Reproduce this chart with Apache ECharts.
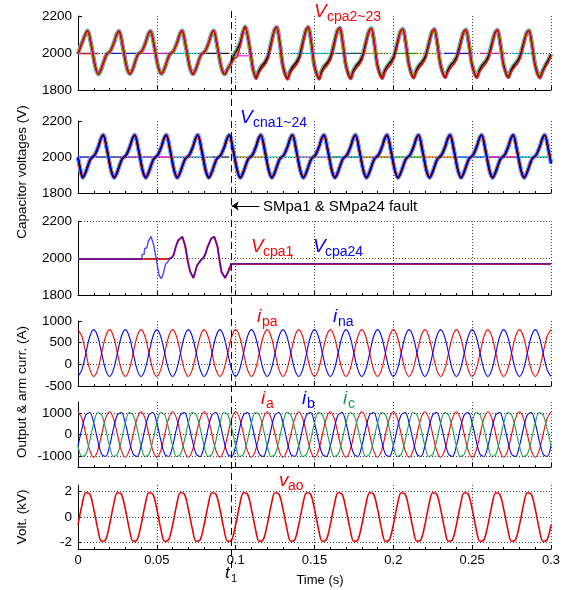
<!DOCTYPE html>
<html><head><meta charset="utf-8">
<script src="https://cdn.jsdelivr.net/npm/echarts@6/dist/echarts.min.js"></script>
<style>html,body{margin:0;padding:0;background:#fff}#c{width:568px;height:590px}</style>
</head><body><div id="c"></div>
<script>
// ---------------- DATA ----------------
const xTicks = [0, 0.05, 0.1, 0.15, 0.2, 0.25, 0.3];
const faultTime = 0.097;

// common sampling grid (s) for the sinusoidal traces
const tGrid = [
0,0.0025,0.005,0.0075,0.01,0.0125,0.015,0.0175,
0.02,0.0225,0.025,0.0275,0.03,0.0325,0.035,0.0375,
0.04,0.0425,0.045,0.0475,0.05,0.0525,0.055,0.0575,
0.06,0.0625,0.065,0.0675,0.07,0.0725,0.075,0.0775,
0.08,0.0825,0.085,0.0875,0.09,0.0925,0.095,0.0975,
0.1,0.1025,0.105,0.1075,0.11,0.1125,0.115,0.1175,
0.12,0.1225,0.125,0.1275,0.13,0.1325,0.135,0.1375,
0.14,0.1425,0.145,0.1475,0.15,0.1525,0.155,0.1575,
0.16,0.1625,0.165,0.1675,0.17,0.1725,0.175,0.1775,
0.18,0.1825,0.185,0.1875,0.19,0.1925,0.195,0.1975,
0.2,0.2025,0.205,0.2075,0.21,0.2125,0.215,0.2175,
0.22,0.2225,0.225,0.2275,0.23,0.2325,0.235,0.2375,
0.24,0.2425,0.245,0.2475,0.25,0.2525,0.255,0.2575,
0.26,0.2625,0.265,0.2675,0.27,0.2725,0.275,0.2775,
0.28,0.2825,0.285,0.2875,0.29,0.2925,0.295,0.2975,
0.3];

// Panel 1: upper-arm capacitor voltages V_cpa2~23 (V)
const p1Time = [
0,0.003,0.006,0.0085,0.011,0.013,
0.0147,0.018,0.0205,0.023,0.0245,0.026,0.0285,0.031,0.033,
0.0347,0.038,0.0405,0.043,0.0445,0.046,0.0485,0.051,0.053,
0.0547,0.058,0.0605,0.063,0.0645,0.066,0.0685,0.071,0.073,
0.0747,0.078,0.0805,0.083,0.0845,0.086,0.0885,0.091,0.093,
0.095,0.097,0.099,0.101,0.103,0.1045,0.106,0.1085,0.111,0.113,
0.1145,0.1165,0.1185,0.1205,0.1225,0.1245,0.126,0.128,0.130,0.133,
0.1345,0.1365,0.1385,0.1405,0.1425,0.1445,0.146,0.148,0.150,0.153,
0.1545,0.1565,0.1585,0.1605,0.1625,0.1645,0.166,0.168,0.170,0.173,
0.1745,0.1765,0.1785,0.1805,0.1825,0.1845,0.186,0.188,0.190,0.193,
0.1945,0.1965,0.1985,0.2005,0.2025,0.2045,0.206,0.208,0.210,0.213,
0.2145,0.2165,0.2185,0.2205,0.2225,0.2245,0.226,0.228,0.230,0.233,
0.2345,0.2365,0.2385,0.2405,0.2425,0.2445,0.246,0.248,0.250,0.253,
0.2545,0.2565,0.2585,0.2605,0.2625,0.2645,0.266,0.268,0.270,0.273,
0.2745,0.2765,0.2785,0.2805,0.2825,0.2845,0.286,0.288,0.290,0.293,
0.2945,0.2965,0.2985,0.3];
const p1Wave = [
1995,2065,2120,2040,1925,1885,
1912,1990,2010,2060,2100,2118,2030,1920,1887,
1912,1992,2010,2060,2100,2118,2030,1920,1888,
1912,1990,2010,2060,2100,2120,2030,1920,1886,
1912,1990,2008,2058,2100,2120,2030,1920,1885,
1915,1945,1990,2020,2060,2110,2142,2050,1915,1866,
1900,1930,1950,1985,2055,2122,2140,2055,1930,1862,
1900,1930,1950,1985,2055,2122,2140,2055,1930,1862,
1902,1932,1952,1987,2055,2120,2136,2052,1932,1864,
1902,1932,1952,1987,2055,2118,2134,2050,1932,1866,
1904,1934,1954,1988,2054,2116,2130,2048,1934,1868,
1905,1935,1955,1988,2052,2114,2128,2046,1935,1870,
1905,1935,1955,1988,2052,2112,2126,2046,1935,1870,
1905,1935,1955,1988,2050,2110,2124,2044,1935,1870,
1904,1934,1954,1988,2050,2108,2122,2044,1934,1868,
1900,1935,1965,1995];
const p1Red = [
1995,2065,2120,2040,1925,1885,
1912,1990,2010,2060,2100,2118,2030,1920,1887,
1912,1992,2010,2060,2100,2118,2030,1920,1888,
1912,1990,2010,2060,2100,2120,2030,1920,1886,
1912,1990,2008,2058,2100,2120,2030,1920,1885,
1915,1942,1968,1980,2040,2105,2142,2052,1910,1858,
1890,1915,1935,1968,2040,2118,2140,2050,1920,1856,
1890,1915,1935,1968,2040,2118,2140,2050,1920,1856,
1892,1917,1937,1970,2040,2116,2136,2048,1922,1858,
1892,1917,1937,1970,2040,2114,2134,2046,1922,1860,
1894,1919,1939,1972,2040,2112,2130,2044,1924,1862,
1895,1920,1940,1972,2038,2110,2128,2042,1925,1864,
1895,1920,1940,1972,2038,2108,2126,2042,1925,1864,
1895,1920,1940,1972,2036,2106,2124,2040,1925,1864,
1894,1919,1939,1972,2036,2104,2122,2040,1924,1862,
1892,1925,1955,1985];
// bypassed (flat) capacitor segments in panel 1
const p1FlatStart = [0,0.017,0.040,0.058,0.077,0.100,0.135,0.163,0.180,0.200,0.215,0.232,0.255,0.275];
const p1FlatEnd   = [0.013,0.040,0.058,0.077,0.096,0.111,0.163,0.180,0.197,0.215,0.230,0.250,0.272,0.292];
const p1FlatLevel = [1997,1998,1998,1998,1998,1985,1998,1998,1998,1998,1998,1998,1998,1998];

// Panel 2: lower-arm capacitor voltages V_cna1~24 (V)
const p2Time = [
0,0.0015,0.003,
0.0047,0.008,0.0105,0.013,0.0145,0.016,0.0185,0.021,0.023,
0.0247,0.028,0.0305,0.033,0.0345,0.036,0.0385,0.041,0.043,
0.0447,0.048,0.0505,0.053,0.0545,0.056,0.0585,0.061,0.063,
0.0647,0.068,0.0705,0.073,0.0745,0.076,0.0785,0.081,0.083,
0.0847,0.088,0.0905,0.093,0.0945,0.096,0.0985,0.101,0.103,
0.1047,0.108,0.1105,0.113,0.1145,0.116,0.1185,0.121,0.123,
0.1247,0.128,0.1305,0.133,0.1345,0.136,0.1385,0.141,0.143,
0.1447,0.148,0.1505,0.153,0.1545,0.156,0.1585,0.161,0.163,
0.1647,0.168,0.1705,0.173,0.1745,0.176,0.1785,0.181,0.183,
0.1847,0.188,0.1905,0.193,0.1945,0.196,0.1985,0.201,0.203,
0.2047,0.208,0.2105,0.213,0.2145,0.216,0.2185,0.221,0.223,
0.2247,0.228,0.2305,0.233,0.2345,0.236,0.2385,0.241,0.243,
0.2447,0.248,0.2505,0.253,0.2545,0.256,0.2585,0.261,0.263,
0.2647,0.268,0.2705,0.273,0.2745,0.276,0.2785,0.281,0.283,
0.2847,0.288,0.2905,0.293,0.2945,0.296,0.2985,0.3];
const p2Wave = [
1998,1930,1885,
1912,1990,2010,2060,2102,2122,2035,1925,1885,
1912,1990,2010,2060,2102,2122,2035,1925,1885,
1912,1990,2010,2060,2102,2122,2035,1925,1885,
1912,1990,2010,2060,2102,2122,2035,1925,1885,
1912,1990,2010,2060,2102,2122,2035,1925,1885,
1912,1990,2010,2060,2102,2122,2035,1925,1885,
1912,1990,2010,2060,2102,2122,2035,1925,1885,
1912,1990,2010,2060,2102,2122,2035,1925,1885,
1912,1990,2010,2060,2102,2122,2035,1925,1885,
1912,1990,2010,2060,2102,2122,2035,1925,1885,
1912,1990,2010,2060,2102,2122,2035,1925,1885,
1912,1990,2010,2060,2102,2122,2035,1925,1885,
1912,1990,2010,2060,2102,2122,2035,1925,1885,
1912,1990,2010,2060,2102,2122,2035,1925,1885,
1912,1990,2010,2060,2102,2122,2035,1965];
const p2FlatStart = [0,0.028,0.050,0.060,0.085,0.100,0.118,0.140,0.160,0.180,0.200,0.220,0.240,0.260,0.280];
const p2FlatEnd   = [0.028,0.048,0.060,0.085,0.096,0.118,0.140,0.158,0.178,0.198,0.218,0.238,0.258,0.278,0.298];
const p2FlatLevel = [2000,2000,2000,2000,2000,2000,2000,2000,2000,2000,2000,2000,2000,2000,2000];

// Panel 3: V_cpa1 (red) and V_cpa24 (blue)
const p3Time = [0,0.0404,0.0406,0.042,0.0422,0.0436,0.0446,0.0463,0.048,0.0495,0.0505,0.0515,0.0527,0.0537,0.0545,0.0555,0.057,
0.0584,0.0598,0.0608,0.062,0.0635,0.0662,0.068,0.0698,0.0712,0.0732,0.0745,0.0755,0.0768,0.078,0.0795,0.0808,0.0822,0.0845,0.0865,0.0885,0.0898,0.091,0.0933,0.0945,0.0955,0.0962,0.0968,0.097,0.3];
const p3Blue = [1995,1995,2018,2020,2050,2055,2090,2117,2070,2000,1950,1905,1888,1905,1930,1965,1980,
1998,2005,2020,2060,2095,2115,2065,1975,1925,1892,1930,1960,1975,1990,2000,2022,2060,2105,2115,2060,1985,1925,1892,1900,1930,1950,1945,1968,1968];
const p3Red = [1995,1995,1995,1995,1995,1995,1995,1995,1995,1995,1995,1995,1995,1995,1995,1995,1995,
1998,2005,2020,2060,2095,2115,2065,1975,1925,1892,1930,1960,1975,1990,2000,2022,2060,2105,2115,2060,1985,1925,1892,1900,1930,1950,1935,1968,1968];

// Panel 4: arm currents (A)
const ipa = [
800,642,260,-122,-280,-122,260,642, 800,642,260,-122,-280,-122,260,642,
800,642,260,-122,-280,-122,260,642, 800,642,260,-122,-280,-122,260,642,
800,642,260,-122,-280,-122,260,642, 800,642,260,-122,-280,-122,260,642,
800,642,260,-122,-280,-122,260,642, 800,642,260,-122,-280,-122,260,642,
800,642,260,-122,-280,-122,260,642, 800,642,260,-122,-280,-122,260,642,
800,642,260,-122,-280,-122,260,642, 800,642,260,-122,-280,-122,260,642,
800,642,260,-122,-280,-122,260,642, 800,642,260,-122,-280,-122,260,642,
800,642,260,-122,-280,-122,260,642, 800];
const ina = [
-280,-122,260,642,800,642,260,-122, -280,-122,260,642,800,642,260,-122,
-280,-122,260,642,800,642,260,-122, -280,-122,260,642,800,642,260,-122,
-280,-122,260,642,800,642,260,-122, -280,-122,260,642,800,642,260,-122,
-280,-122,260,642,800,642,260,-122, -280,-122,260,642,800,642,260,-122,
-280,-122,260,642,800,642,260,-122, -280,-122,260,642,800,642,260,-122,
-280,-122,260,642,800,642,260,-122, -280,-122,260,642,800,642,260,-122,
-280,-122,260,642,800,642,260,-122, -280,-122,260,642,800,642,260,-122,
-280,-122,260,642,800,642,260,-122, -280];

// Panel 5: output currents (A)
const ia = [
1050,742,0,-742,-1050,-742,0,742, 1050,742,0,-742,-1050,-742,0,742,
1050,742,0,-742,-1050,-742,0,742, 1050,742,0,-742,-1050,-742,0,742,
1050,742,0,-742,-1050,-742,0,742, 1050,742,0,-742,-1050,-742,0,742,
1050,742,0,-742,-1050,-742,0,742, 1050,742,0,-742,-1050,-742,0,742,
1050,742,0,-742,-1050,-742,0,742, 1050,742,0,-742,-1050,-742,0,742,
1050,742,0,-742,-1050,-742,0,742, 1050,742,0,-742,-1050,-742,0,742,
1050,742,0,-742,-1050,-742,0,742, 1050,742,0,-742,-1050,-742,0,742,
1050,742,0,-742,-1050,-742,0,742, 1050];
const ib = [
-525,272,909,1014,525,-272,-909,-1014, -525,272,909,1014,525,-272,-909,-1014,
-525,272,909,1014,525,-272,-909,-1014, -525,272,909,1014,525,-272,-909,-1014,
-525,272,909,1014,525,-272,-909,-1014, -525,272,909,1014,525,-272,-909,-1014,
-525,272,909,1014,525,-272,-909,-1014, -525,272,909,1014,525,-272,-909,-1014,
-525,272,909,1014,525,-272,-909,-1014, -525,272,909,1014,525,-272,-909,-1014,
-525,272,909,1014,525,-272,-909,-1014, -525,272,909,1014,525,-272,-909,-1014,
-525,272,909,1014,525,-272,-909,-1014, -525,272,909,1014,525,-272,-909,-1014,
-525,272,909,1014,525,-272,-909,-1014, -525];
const ic = [
-525,-1014,-909,-272,525,1014,909,272, -525,-1014,-909,-272,525,1014,909,272,
-525,-1014,-909,-272,525,1014,909,272, -525,-1014,-909,-272,525,1014,909,272,
-525,-1014,-909,-272,525,1014,909,272, -525,-1014,-909,-272,525,1014,909,272,
-525,-1014,-909,-272,525,1014,909,272, -525,-1014,-909,-272,525,1014,909,272,
-525,-1014,-909,-272,525,1014,909,272, -525,-1014,-909,-272,525,1014,909,272,
-525,-1014,-909,-272,525,1014,909,272, -525,-1014,-909,-272,525,1014,909,272,
-525,-1014,-909,-272,525,1014,909,272, -525,-1014,-909,-272,525,1014,909,272,
-525,-1014,-909,-272,525,1014,909,272, -525];

// Panel 6: output voltage v_ao (kV)
const vao = [
-0.62,0.91,1.90,1.78,0.62,-0.91,-1.90,-1.78, -0.62,0.91,1.90,1.78,0.62,-0.91,-1.90,-1.78,
-0.62,0.91,1.90,1.78,0.62,-0.91,-1.90,-1.78, -0.62,0.91,1.90,1.78,0.62,-0.91,-1.90,-1.78,
-0.62,0.91,1.90,1.78,0.62,-0.91,-1.90,-1.78, -0.62,0.91,1.90,1.78,0.62,-0.91,-1.90,-1.78,
-0.62,0.91,1.90,1.78,0.62,-0.91,-1.90,-1.78, -0.62,0.91,1.90,1.78,0.62,-0.91,-1.90,-1.78,
-0.62,0.91,1.90,1.78,0.62,-0.91,-1.90,-1.78, -0.62,0.91,1.90,1.78,0.62,-0.91,-1.90,-1.78,
-0.62,0.91,1.90,1.78,0.62,-0.91,-1.90,-1.78, -0.62,0.91,1.90,1.78,0.62,-0.91,-1.90,-1.78,
-0.62,0.91,1.90,1.78,0.62,-0.91,-1.90,-1.78, -0.62,0.91,1.90,1.78,0.62,-0.91,-1.90,-1.78,
-0.62,0.91,1.90,1.78,0.62,-0.91,-1.90,-1.78, -0.62];

// Axis ticks / ranges per panel
const capTicks = [1800, 2000, 2200];
const armTicks = [-500, 0, 500, 1000];
const outTicks = [-1000, 0, 1000];
const voltTicks = [-2, 0, 2];
const hGrid = [[2000], [2000], [2000, 2200], [0, 500], [-1000, 0, 1000], [-2, 0, 2]];

// ---------------- LAYOUT / STYLE ----------------
const FONT = '"Liberation Sans", Arial, Helvetica, sans-serif';
const GL = 78, GW = 473;
const panels = [
  {top: 16, height: 74, min: 1800, max: 2200, interval: 200, ticks: capTicks},
  {top: 121, height: 72, min: 1800, max: 2200, interval: 200, ticks: capTicks},
  {top: 221, height: 74, min: 1800, max: 2200, interval: 200, ticks: capTicks},
  {top: 321, height: 65, min: -500, max: 1000, interval: 500, ticks: armTicks},
  {top: 402, height: 65, min: -1500, max: 1500, interval: 500, ticks: outTicks},
  {top: 485, height: 64, min: -2.5, max: 2.5, interval: 0.5, ticks: voltTicks}
];
const p1FlatColors = ['#ff0000','#0000ff','#ff00ff','#00d8e8','#000000','#ff40ff','#00d8e8','#005f6f','#b0b040','#00c000','#d8d800','#0000ff','#ff00ff','#00d8e8'];
const p2FlatColors = ['#3a2fd0','#8a2be2','#ff00ff','#6495ed','#2f4f6f','#a0a020','#40e0b0','#8080ff','#00a0a0','#c08000','#30c030','#ff8000','#0060ff','#c000c0','#00c0c0'];

const grids = [], xAxes = [], yAxes = [], series = [];
panels.forEach((p, i) => {
  grids.push({left: GL, width: GW, top: p.top, height: p.height});
  xAxes.push({
    gridIndex: i, type: 'value', min: 0, max: 0.3, interval: 0.05,
    axisLine: {show: true, onZero: false, lineStyle: {color: '#000', width: 1}},
    axisTick: {show: true, inside: true, length: 4, lineStyle: {color: '#000'}},
    minorTick: {show: true, splitNumber: 5, length: 2, lineStyle: {color: '#000'}},
    axisLabel: {show: i === 5, color: '#000', fontSize: 13, fontFamily: FONT, margin: 5,
      formatter: v => String(v)},
    splitLine: {show: true, lineStyle: {color: '#444', width: 1, type: [1, 2]}}
  });
  yAxes.push({
    gridIndex: i, type: 'value', min: p.min, max: p.max, interval: p.interval,
    axisLine: {show: true, onZero: false, lineStyle: {color: '#000', width: 1}},
    axisTick: {show: true, inside: true, length: 4, customValues: p.ticks, lineStyle: {color: '#000'}},
    axisLabel: {show: true, color: '#000', fontSize: 13.5, fontFamily: FONT, margin: 6, customValues: p.ticks,
      formatter: v => String(v)},
    splitLine: {show: false}
  });
});
// overlay grid for the fault instant marker
grids.push({left: GL, width: GW, top: 11, height: 557});
xAxes.push({gridIndex: 6, type: 'value', min: 0, max: 0.3, show: false});
yAxes.push({gridIndex: 6, type: 'value', min: 0, max: 1, show: false});

const pairs = (ts, vs) => ts.map((t, k) => [t, vs[k]]);
function addLine(gi, data, color, width, opts) {
  series.push(Object.assign({
    type: 'line', xAxisIndex: gi, yAxisIndex: gi, data: data,
    symbol: 'none', showSymbol: false, silent: true, animation: false,
    lineStyle: {color: color, width: width}, itemStyle: {color: color}, z: 2
  }, opts || {}));
}
function gridMark(gi) {
  return {silent: true, symbol: ['none', 'none'], label: {show: false}, animation: false,
    lineStyle: {color: '#444', width: 1, type: [1, 2]},
    data: hGrid[gi].map(v => ({yAxis: v}))};
}

// Panel 1
p1FlatStart.forEach((s, k) => addLine(0, [[s, p1FlatLevel[k]], [p1FlatEnd[k], p1FlatLevel[k]]], p1FlatColors[k], 1.4, k === 0 ? {markLine: gridMark(0)} : {}));
const w1 = pairs(p1Time, p1Wave);
addLine(0, w1, '#00e0f0', 4.4, {smooth: 0.3});
addLine(0, w1, '#ff40ff', 3.6, {smooth: 0.3});
addLine(0, w1, '#40d040', 2.8, {smooth: 0.3});
addLine(0, w1, '#e0e000', 2.2, {smooth: 0.3});
addLine(0, w1, '#000000', 1.6, {smooth: 0.3});
addLine(0, pairs(p1Time, p1Red), '#ff0000', 1.5, {smooth: 0.3});

// Panel 2
p2FlatStart.forEach((s, k) => addLine(1, [[s, p2FlatLevel[k]], [p2FlatEnd[k], p2FlatLevel[k]]], p2FlatColors[k], 1.4, k === 0 ? {markLine: gridMark(1)} : {}));
const w2 = pairs(p2Time, p2Wave);
addLine(1, w2, '#00e0f0', 4.4, {smooth: 0.3});
addLine(1, w2, '#ff40ff', 3.6, {smooth: 0.3});
addLine(1, w2, '#d0d000', 2.8, {smooth: 0.3});
addLine(1, w2, '#ff3030', 2.2, {smooth: 0.3});
addLine(1, w2, '#000000', 1.8, {smooth: 0.3});
addLine(1, w2, '#0000d0', 1.5, {smooth: 0.3});

// Panel 3
addLine(2, pairs(p3Time, p3Red), '#ff2020', 2, {markLine: gridMark(2)});
addLine(2, pairs(p3Time, p3Blue), 'rgba(0,0,255,0.72)', 1.4);

// Panel 4
addLine(3, pairs(tGrid, ipa), '#ff0000', 1.1, {smooth: 0.35, markLine: gridMark(3)});
addLine(3, pairs(tGrid, ina), '#0000ff', 1.1, {smooth: 0.35});

// Panel 5
addLine(4, pairs(tGrid, ia), '#ff0000', 1.1, {smooth: 0.35, markLine: gridMark(4)});
addLine(4, pairs(tGrid, ib), '#0000ff', 1.1, {smooth: 0.35});
addLine(4, pairs(tGrid, ic), '#12a150', 1.1, {smooth: 0.35});

// Panel 6
addLine(5, pairs(tGrid, vao), '#ee0000', 1.6, {smooth: 0.35, markLine: gridMark(5)});

// Overlay: fault instant dashed line and arrow annotation
const arrowY = 0.65, arrowFrom = 0.115;
series.push({
  type: 'line', xAxisIndex: 6, yAxisIndex: 6, data: [], silent: true, animation: false, z: 10,
  markLine: {
    silent: true, animation: false, label: {show: false},
    data: [
      [{coord: [faultTime, 0], symbol: 'none', lineStyle: {color: '#000', width: 1, type: [7, 4]}},
       {coord: [faultTime, 1], symbol: 'none'}],
      [{coord: [arrowFrom, arrowY], symbol: 'none', lineStyle: {color: '#000', width: 1, type: 'solid'}},
       {coord: [faultTime + 0.0005, arrowY], symbol: 'arrow', symbolSize: 7}]
    ]
  }
});

// ---------------- TEXT ----------------
function txt(x, y, text, color, size, italic, family) {
  return {type: 'text', x: x, y: y, silent: true, z: 20,
    style: {text: text, fill: color, fontSize: size, fontFamily: family || FONT, fontStyle: italic ? 'italic' : 'normal',
      textAlign: 'left', textVerticalAlign: 'middle'}};
}
function vtxt(x, y, text) {
  return {type: 'text', x: x, y: y, rotation: Math.PI / 2, silent: true, z: 20,
    style: {text: text, fill: '#000', fontSize: 13.5, fontFamily: FONT, textAlign: 'center', textVerticalAlign: 'middle'}};
}
const graphics = [
  txt(314, 12, 'V', '#ff0000', 19, true), txt(327, 17, 'cpa2~23', '#ff0000', 14),
  txt(240, 118, 'V', '#0000ff', 19, true), txt(253, 123, 'cna1~24', '#0000ff', 14),
  txt(263, 207, 'SMpa1 & SMpa24 fault', '#000', 15),
  txt(251, 247, 'V', '#ff0000', 19, true), txt(263, 252, 'cpa1', '#ff0000', 14),
  txt(289, 251, ',', '#ff0000', 17, false),
  txt(313, 247, 'V', '#0000ff', 19, true), txt(325, 252, 'cpa24', '#0000ff', 14),
  txt(257, 317, 'i', '#ff0000', 19, true), txt(262, 322, 'pa', '#ff0000', 14),
  txt(333, 317, 'i', '#0000ff', 19, true), txt(338, 322, 'na', '#0000ff', 14),
  txt(261, 399, 'i', '#ff0000', 19, true), txt(266, 404, 'a', '#ff0000', 14),
  txt(302, 399, 'i', '#0000ff', 19, true), txt(307, 404, 'b', '#0000ff', 14),
  txt(343, 399, 'i', '#12a150', 19, true), txt(348, 404, 'c', '#12a150', 14),
  txt(279, 481, 'v', '#ff0000', 19, true), txt(288, 486, 'ao', '#ff0000', 14),
  txt(225, 573, 't', '#000', 17, true), txt(231, 579, '1', '#000', 11),
  {type: 'text', x: 320, y: 580, silent: true, z: 20,
    style: {text: 'Time (s)', fill: '#000', fontSize: 13, fontFamily: FONT, textAlign: 'center', textVerticalAlign: 'middle'}},
  vtxt(22, 172, 'Capacitor voltages (V)'),
  vtxt(22, 392, 'Output & arm curr. (A)'),
  vtxt(22, 517, 'Volt. (kV)')
];

const chart = echarts.init(document.getElementById('c'), null, {renderer: 'canvas'});
chart.setOption({
  animation: false,
  backgroundColor: '#fff',
  grid: grids, xAxis: xAxes, yAxis: yAxes, series: series,
  graphic: graphics
});
</script></body></html>
